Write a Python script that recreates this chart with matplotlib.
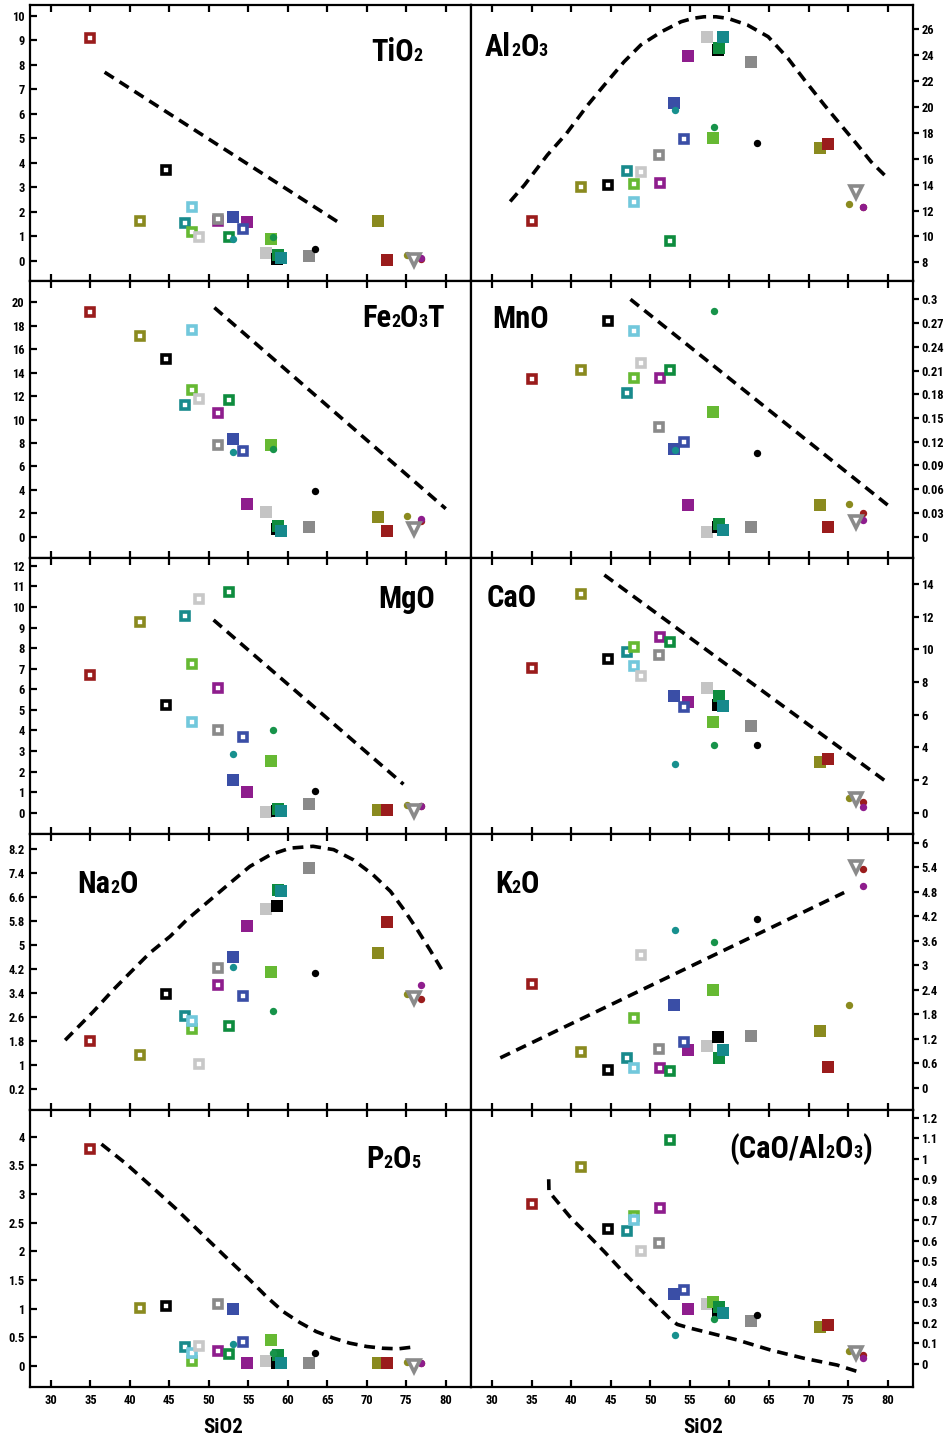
import matplotlib
matplotlib.use("Agg")
import matplotlib.pyplot as plt
import matplotlib.font_manager as fm
from matplotlib.offsetbox import TextArea, HPacker, AnchoredOffsetbox
from matplotlib.ticker import FixedLocator, FixedFormatter


def pick_condensed():
    """Return (family, stretch) for the narrowest heavy sans available."""
    entries = fm.fontManager.ttflist
    condensed = ('condensed', 'semi-condensed', 'extra-condensed', 'ultra-condensed')
    for fam in ['Noto Sans Condensed', 'Roboto Condensed', 'Liberation Sans Narrow',
                'Open Sans Condensed']:
        if any(e.name == fam for e in entries):
            return fam, 'normal'
    for fam in ['Noto Sans', 'Roboto', 'Open Sans', 'DejaVu Sans']:
        if any(e.name == fam and str(e.stretch) in condensed for e in entries):
            return fam, 'condensed'
    return 'Liberation Sans', 'normal'


FAM, STRETCH = pick_condensed()
FONT = [FAM, 'DejaVu Sans']
plt.rcParams['font.family'] = FONT
plt.rcParams['font.stretch'] = STRETCH
plt.rcParams['font.weight'] = 'bold'

# ---------------------------------------------------------------- samples
# order: filled squares, open squares, small circles, triangle
sample_kind = (['filled'] * 10) + (['open'] * 11) + (['circle'] * 6) + ['tri']
sample_color = [
    '#c4c4c4', '#000000', '#66b933', '#0e8c3e', '#16898c',
    '#8a8a8a', '#3a4ea6', '#8e1d8d', '#8a8a1f', '#9a1c1c',
    '#9a1c1c', '#8a8a1f', '#000000', '#188a8c', '#66b933',
    '#72c8dc', '#c8c8c8', '#8e1d8d', '#8a8a8a', '#0e8c3e', '#3a4ea6',
    '#17908e', '#17934a', '#000000', '#8a8a1f', '#9a1c1c', '#8e1d8d',
    '#8a8a8a',
]

sio2 = [57.2, 58.6, 57.9, 58.7, 59.2, 62.7, 53.0, 54.8, 71.4, 72.5,
        35.0, 41.3, 44.6, 47.0, 47.9, 47.9, 48.8, 51.2, 51.1, 52.5, 54.3,
        53.1, 58.1, 63.5, 75.1, 76.9, 76.9,
        76.0]
tio2 = [0.31, 0.10, 0.91, 0.24, 0.14, 0.20, 1.79, 1.60, 1.62, 0.04,
        9.09, 1.64, 3.71, 1.56, 1.17, 2.21, 0.99, 1.65, 1.70, 0.96, 1.32,
        0.88, 0.98, 0.50, 0.23, 0.10, 0.14,
        0.04]
al2o3 = [25.41, 24.4, 17.63, 24.58, 25.41, 23.5, 20.28, 23.97, 16.83, 17.17,
         11.22, 13.82, 13.97, 15.08, 14.08, 12.66, 15.0, 14.13, 16.32, 9.62, 17.55,
         19.77, 18.48, 17.19, 12.53, 12.3, 12.27,
         13.46]
fe2o3t = [2.08, 0.63, 7.82, 0.91, 0.51, 0.80, 8.31, 2.76, 1.65, 0.51,
          19.17, 17.15, 15.16, 11.27, 12.55, 17.61, 11.75, 10.58, 7.82, 11.66, 7.28,
          7.23, 7.51, 3.90, 1.79, 1.30, 1.54,
          0.63]
mno = [0.006, 0.012, 0.157, 0.016, 0.009, 0.012, 0.111, 0.040, 0.040, 0.012,
       0.199, 0.211, 0.273, 0.181, 0.200, 0.260, 0.220, 0.200, 0.139, 0.211, 0.120,
       0.110, 0.285, 0.106, 0.041, 0.030, 0.021,
       0.018]
mgo = [0.05, 0.10, 2.50, 0.18, 0.10, 0.41, 1.57, 1.00, 0.13, 0.13,
       6.70, 9.29, 5.22, 9.58, 7.25, 4.39, 10.41, 6.05, 4.00, 10.73, 3.70,
       2.87, 4.02, 1.07, 0.37, 0.30, 0.32,
       0.08]
cao = [7.61, 6.60, 5.53, 7.12, 6.53, 5.29, 7.12, 6.80, 3.12, 3.29,
       8.84, 13.41, 9.39, 9.86, 10.12, 8.96, 8.35, 10.76, 9.65, 10.43, 6.49,
       2.98, 4.12, 4.16, 0.92, 0.63, 0.33,
       0.84]
na2o = [6.21, 6.31, 4.11, 6.83, 6.80, 7.58, 4.59, 5.64, 4.74, 5.76,
        1.80, 1.32, 3.37, 2.64, 2.19, 2.48, 1.02, 3.67, 4.24, 2.30, 3.31,
        4.26, 2.81, 4.08, 3.36, 3.21, 3.67,
        3.22]
k2o = [1.02, 1.25, 2.40, 0.72, 0.92, 1.27, 2.02, 0.92, 1.39, 0.51,
       2.55, 0.87, 0.44, 0.72, 1.70, 0.47, 3.24, 0.47, 0.95, 0.42, 1.12,
       3.85, 3.58, 4.13, 2.03, 5.36, 4.94,
       5.41]
p2o5 = [0.08, 0.05, 0.45, 0.20, 0.06, 0.05, 0.99, 0.06, 0.05, 0.05,
        3.79, 1.01, 1.05, 0.33, 0.09, 0.22, 0.35, 0.26, 1.08, 0.21, 0.42,
        0.39, 0.22, 0.22, 0.07, 0.05, 0.05,
        0.00]
cao_al2o3 = [0.29, 0.25, 0.30, 0.28, 0.25, 0.21, 0.34, 0.27, 0.18, 0.19,
             0.78, 0.96, 0.66, 0.65, 0.72, 0.70, 0.55, 0.76, 0.59, 1.09, 0.36,
             0.14, 0.22, 0.24, 0.065, 0.044, 0.03,
             0.055]

# ---------------------------------------------------------------- trend lines
trend_tio2 = ([36.8, 66.3], [7.7, 1.6])
trend_al2o3 = ([32.3, 34.1, 37.0, 39.4, 42.1, 44.2, 46.7, 48.8, 51.4, 53.9, 55.4,
                56.8, 58.3, 59.8, 62.3, 64.9, 67.4, 69.5, 72.0, 74.1, 76.2, 77.9, 79.6],
               [12.7, 13.97, 16.29, 17.94, 20.15, 21.7, 23.5, 24.79, 25.81, 26.59, 26.85,
                26.97, 26.97, 26.85, 26.33, 25.43, 23.76, 22.08, 20.15, 18.6, 17.06,
                15.77, 14.74])
trend_fe2o3t = ([50.7, 80.0], [19.55, 2.39])
trend_mno = ([47.5, 80.0], [0.30, 0.04])
trend_mgo = ([50.6, 74.65], [9.37, 1.38])
trend_cao = ([44.2, 79.6], [14.55, 1.98])
trend_na2o = ([31.8, 35.4, 37.9, 40.0, 42.5, 45.1, 47.2, 50.2, 52.7, 55.2, 57.8,
               60.3, 63.2, 65.8, 68.3, 70.8, 73.0, 74.7, 76.4, 78.0, 79.5],
              [1.83, 2.79, 3.51, 4.07, 4.73, 5.29, 5.84, 6.51, 7.07, 7.62, 8.01,
               8.23, 8.29, 8.18, 7.84, 7.34, 6.79, 6.18, 5.51, 4.84, 4.18])
trend_k2o = ([31.05, 74.5], [0.73, 4.78])
trend_p2o5 = ([36.4, 39.5, 42.5, 45.7, 48.85, 52.0, 55.2, 57.3, 59.4, 61.5, 63.6,
               65.7, 67.8, 70.0, 72.0, 74.0, 75.8],
              [3.87, 3.53, 3.16, 2.76, 2.34, 1.92, 1.5, 1.21, 0.95, 0.76, 0.6,
               0.49, 0.4, 0.34, 0.31, 0.3, 0.33])
trend_cao_al2o3 = ([37.17, 37.2, 40.0, 42.1, 44.2, 46.3, 48.4, 50.0, 51.3, 52.5,
                    53.4, 55.0, 56.8, 61.0, 65.2, 69.4, 73.6, 76.2],
                   [0.90, 0.84, 0.71, 0.63, 0.547, 0.46, 0.377, 0.315, 0.265, 0.22,
                    0.193, 0.175, 0.158, 0.117, 0.068, 0.028, -0.005, -0.037])

# ---------------------------------------------------------------- axis ticks
ticks_tio2 = [0, 1, 2, 3, 4, 5, 6, 7, 8, 9, 10]
ticks_al2o3 = [8, 10, 12, 14, 16, 18, 20, 22, 24, 26]
ticks_fe2o3t = [0, 2, 4, 6, 8, 10, 12, 14, 16, 18, 20]
ticks_mno = [0, 0.03, 0.06, 0.09, 0.12, 0.15, 0.18, 0.21, 0.24, 0.27, 0.3]
ticks_mgo = [0, 1, 2, 3, 4, 5, 6, 7, 8, 9, 10, 11, 12]
ticks_cao = [0, 2, 4, 6, 8, 10, 12, 14]
ticks_na2o = [0.2, 1, 1.8, 2.6, 3.4, 4.2, 5, 5.8, 6.6, 7.4, 8.2]
ticks_k2o = [0, 0.6, 1.2, 1.8, 2.4, 3, 3.6, 4.2, 4.8, 5.4, 6]
ticks_p2o5 = [0, 0.5, 1, 1.5, 2, 2.5, 3, 3.5, 4]
ticks_ratio = [0, 0.1, 0.2, 0.3, 0.4, 0.5, 0.6, 0.7, 0.8, 0.9, 1, 1.1, 1.2]
ticks_sio2 = [30, 35, 40, 45, 50, 55, 60, 65, 70, 75, 80]


def fmt(v):
    return ('%g' % v)


# panel: values, y-limits, y-ticks, title pieces, title anchor, trend
panels = [
    (tio2, (-0.83, 10.44), ticks_tio2, [('TiO', 0), ('2', 1)], (0.891, 0.83, 'right'), trend_tio2),
    (al2o3, (6.53, 27.88), ticks_al2o3, [('Al', 0), ('2', 1), ('O', 0), ('3', 1)], (0.032, 0.848, 'left'), trend_al2o3),
    (fe2o3t, (-1.79, 21.79), ticks_fe2o3t, [('Fe', 0), ('2', 1), ('O', 0), ('3', 1), ('T', 0)], (0.939, 0.866, 'right'), trend_fe2o3t),
    (mno, (-0.0265, 0.3227), ticks_mno, [('MnO', 0)], (0.048, 0.862, 'left'), trend_mno),
    (mgo, (-1.04, 12.40), ticks_mgo, [('MgO', 0)], (0.918, 0.85, 'right'), trend_mgo),
    (cao, (-1.30, 15.61), ticks_cao, [('CaO', 0)], (0.036, 0.855, 'left'), trend_cao),
    (na2o, (-0.51, 8.70), ticks_na2o, [('Na', 0), ('2', 1), ('O', 0)], (0.107, 0.82, 'left'), trend_na2o),
    (k2o, (-0.556, 6.213), ticks_k2o, [('K', 0), ('2', 1), ('O', 0)], (0.054, 0.82, 'left'), trend_k2o),
    (p2o5, (-0.361, 4.459), ticks_p2o5, [('P', 0), ('2', 1), ('O', 0), ('5', 1)], (0.884, 0.824, 'right'), trend_p2o5),
    (cao_al2o3, (-0.1106, 1.2356), ticks_ratio,
     [('(CaO/Al', 0), ('2', 1), ('O', 0), ('3', 1), (')', 0)], (0.907, 0.86, 'right'), trend_cao_al2o3),
]

W, H = 945.0, 1435.0
col_left = [30.0, 471.0]
col_w = [441.0, 442.0]
row_top0 = 5.0
row_h = 276.34

fig = plt.figure(figsize=(9.45, 14.35), dpi=100)


def draw_title(ax, pieces, anchor):
    x, y, side = anchor
    boxes = []
    for txt, sub in pieces:
        boxes.append(TextArea(txt, textprops=dict(fontsize=13 if sub else 22,
                                                  fontweight='black', family=FONT,
                                                  fontstretch=STRETCH)))
    pack = HPacker(children=boxes, align='baseline', pad=0, sep=0)
    loc = 'center right' if side == 'right' else 'center left'
    ab = AnchoredOffsetbox(loc=loc, child=pack, bbox_to_anchor=(x, y),
                           bbox_transform=ax.transAxes, frameon=False,
                           borderpad=0, pad=0)
    ax.add_artist(ab)


for i, (vals, ylim, yticks, title, anchor, trend) in enumerate(panels):
    r, c = divmod(i, 2)
    top = row_top0 + r * row_h
    ax = fig.add_axes([col_left[c] / W, 1 - (top + row_h) / H, col_w[c] / W, row_h / H])
    ax.set_xlim(27.35, 83.2)
    ax.set_ylim(*ylim)
    for s in ax.spines.values():
        s.set_linewidth(1.6)

    # trend line
    ax.plot(trend[0], trend[1], color='black', lw=2.6, ls=(0, (3.0, 1.9)),
            dash_capstyle='butt', solid_joinstyle='round', zorder=2)

    # samples
    for x, y, kind, col in zip(sio2, vals, sample_kind, sample_color):
        if kind == 'filled':
            ax.plot(x, y, 's', ms=9.2, mfc=col, mec=col, mew=0, zorder=3)
        elif kind == 'open':
            ax.plot(x, y, 's', ms=6.2, mfc='white', mec=col, mew=2.6, zorder=4)
        elif kind == 'circle':
            ax.plot(x, y, 'o', ms=5.3, mfc=col, mec=col, mew=0, zorder=5)
        else:
            ax.plot(x, y, 'v', ms=8.5, mfc='white', mec=col, mew=2.6, zorder=6)

    # x axis
    ax.xaxis.set_major_locator(FixedLocator(ticks_sio2))
    ax.tick_params(axis='x', which='both', top=True, bottom=True, direction='in',
                   length=5, width=1.6, labelsize=9, pad=5)
    if r < 4:
        ax.tick_params(axis='x', labelbottom=False)
    else:
        ax.set_xlabel('SiO2', fontsize=15, fontweight='black')
        ax.xaxis.set_label_coords(0.437 if c == 0 else 0.525, -0.115)

    # y axis
    ax.yaxis.set_major_locator(FixedLocator(yticks))
    ax.yaxis.set_major_formatter(FixedFormatter([fmt(v) for v in yticks]))
    if c == 0:
        ax.tick_params(axis='y', left=True, right=False, direction='in',
                       length=5, width=1.6, labelsize=9, pad=4)
    else:
        ax.yaxis.tick_right()
        ax.tick_params(axis='y', left=False, right=True, direction='out',
                       length=4, width=1.6, labelsize=9, pad=2)
    for lab in ax.get_xticklabels() + ax.get_yticklabels():
        lab.set_fontweight('bold')

    draw_title(ax, title, anchor)

fig.savefig('out.png', dpi=100)
